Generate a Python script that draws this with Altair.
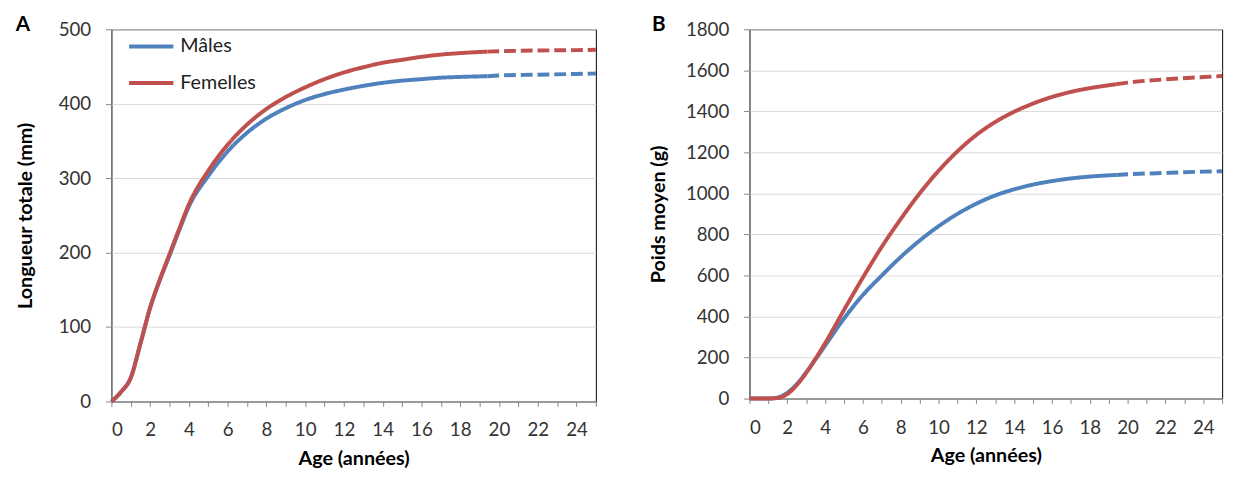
import altair as alt
import pandas as pd

# ---------------- data ----------------
SEXES = ["Mâles", "Femelles"]
COLORS = ["#4F81BD", "#C0504D"]

X_TICKS = list(range(0, 26))
Y_TICKS_A = [0, 100, 200, 300, 400, 500]
Y_TICKS_B = [0, 200, 400, 600, 800, 1000, 1200, 1400, 1600, 1800]

# Panel A : longueur totale (mm)
A_AGE_OBS = [0, 0.5, 1, 1.5, 2, 2.5, 3, 3.5, 4, 5, 6, 7, 8, 9, 10, 11, 12, 13, 14, 15, 16, 17, 18, 19.4]
A_M_OBS = [0, 13, 32, 78, 126, 163, 196, 230, 262, 303, 336, 361, 380, 394, 405, 413, 419, 424, 428, 431, 433, 435, 436, 437]
A_F_OBS = [0, 13, 32, 78, 126, 164, 198, 232, 265, 310, 345, 372, 393, 409, 422, 433, 442, 449, 455, 459, 463, 466, 468, 470]
A_AGE_EXT = [19.4, 20, 22, 24, 25]
A_M_EXT = [437, 438, 439, 440, 440.5]
A_F_EXT = [470, 470.5, 471.5, 472, 472.5]

# Panel B : poids moyen (g)
B_AGE_OBS = [0, 1, 1.5, 2, 2.5, 3, 3.5, 4, 5, 6, 7, 8, 9, 10, 11, 12, 13, 14, 15, 16, 17, 18, 19.4]
B_M_OBS = [0, 0, 5, 28, 70, 128, 192, 258, 390, 505, 600, 690, 770, 840, 900, 950, 990, 1020, 1043, 1060, 1073, 1082, 1090]
B_F_OBS = [0, 0, 3, 22, 65, 125, 195, 270, 432, 590, 740, 875, 1000, 1110, 1205, 1285, 1348, 1398, 1438, 1470, 1495, 1513, 1532]
B_AGE_EXT = [19.4, 20, 22, 24, 25]
B_M_EXT = [1090, 1093, 1100, 1106, 1108]
B_F_EXT = [1532, 1540, 1556, 1567, 1572]


def build(age_obs, m_obs, f_obs, age_ext, m_ext, f_ext):
    rows = []
    for sexe, obs, ext in (("Mâles", m_obs, m_ext), ("Femelles", f_obs, f_ext)):
        for a, v in zip(age_obs, obs):
            rows.append({"age": a, "val": v, "sexe": sexe, "seg": "obs"})
        for a, v in zip(age_ext, ext):
            rows.append({"age": a, "val": v, "sexe": sexe, "seg": "ext"})
    return pd.DataFrame(rows)


FONT = "Lato"


def panel(df, letter, y_title, y_ticks, y_max, w, h, title_pad, letter_dx):
    x = alt.X(
        "age:Q",
        scale=alt.Scale(domain=[0, 25], nice=False),
        axis=alt.Axis(
            values=X_TICKS,
            labelExpr="datum.value % 2 === 0 && datum.value <= 24 ? datum.label : ''",
            format="d",
            grid=False,
            tickSize=5,
            labelPadding=15,
            title="Age (années)",
            titlePadding=9,
        ),
    )
    y = alt.Y(
        "val:Q",
        scale=alt.Scale(domain=[0, y_max], nice=False),
        axis=alt.Axis(
            values=y_ticks,
            format="d",
            grid=True,
            tickSize=6,
            labelPadding=15,
            title=y_title,
            titlePadding=title_pad,
        ),
    )
    color = alt.Color(
        "sexe:N",
        scale=alt.Scale(domain=SEXES, range=COLORS),
        sort=SEXES,
        legend=alt.Legend(
            title=None,
            orient="none",
            legendX=16,
            legendY=-7,
            symbolType="stroke",
            symbolSize=2025,
            symbolStrokeWidth=4,
            labelFontSize=20,
            labelFont=FONT,
            labelColor="#222222",
            labelOffset=5,
            rowPadding=2,
            padding=0,
        ),
    )
    dash = alt.StrokeDash(
        "seg:N",
        scale=alt.Scale(domain=["obs", "ext"], range=[[1, 0], [12, 5]]),
        legend=None,
    )
    return (
        alt.Chart(df)
        .mark_line(strokeWidth=4, strokeCap="butt", interpolate="monotone")
        .encode(x=x, y=y, color=color, strokeDash=dash)
        .properties(
            width=w,
            height=h,
            title=alt.TitleParams(
                text=letter,
                anchor="start",
                frame="bounds",
                fontSize=21,
                fontWeight="bold",
                font=FONT,
                color="#000000",
                baseline="alphabetic",
                offset=-32,
                dx=letter_dx,
            ),
        )
    )


df_a = build(A_AGE_OBS, A_M_OBS, A_F_OBS, A_AGE_EXT, A_M_EXT, A_F_EXT)
df_b = build(B_AGE_OBS, B_M_OBS, B_F_OBS, B_AGE_EXT, B_M_EXT, B_F_EXT)

pa = panel(df_a, "A", "Longueur totale (mm)", Y_TICKS_A, 500, 492, 378, 23, 0)
pb = panel(df_b, "B", "Poids moyen (g)", Y_TICKS_B, 1800, 480, 375, 17, 3)

chart = (
    alt.hconcat(pa, pb, spacing=44)
    .properties(padding={"left": 7, "top": 2, "right": 0, "bottom": 0})
    .configure(background="white")
    .configure_view(stroke="#000000", strokeWidth=1)
    .configure_axis(
        labelFont=FONT,
        labelFontSize=19,
        labelColor="#333333",
        titleFont=FONT,
        titleFontSize=20,
        titleFontWeight="bold",
        titleColor="#000000",
        domainColor="#868686",
        tickColor="#868686",
        gridColor="#D9D9D9",
        gridWidth=1,
    )
)

chart.save("out.html", embed_options={"renderer": "svg", "actions": False})
